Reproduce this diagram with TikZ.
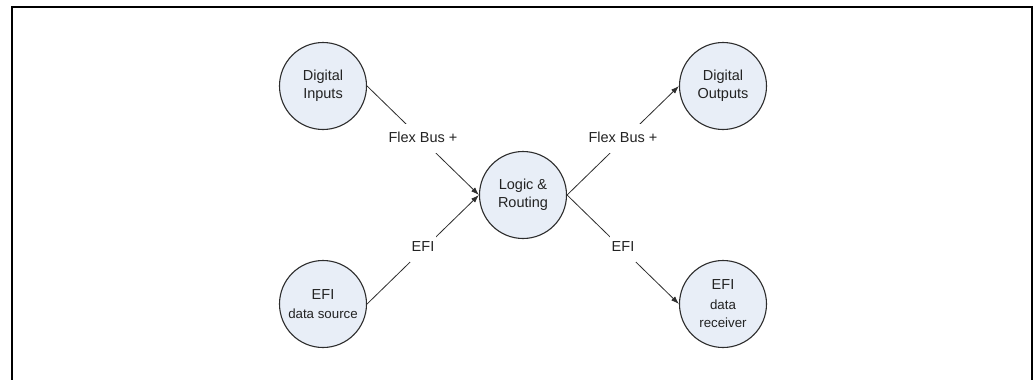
\documentclass[tikz,border=0pt]{standalone}
\usepackage{fontspec}
\setmainfont{Liberation Sans}
\usetikzlibrary{arrows.meta}
\definecolor{nodefill}{RGB}{232,238,247}
\definecolor{edgegray}{RGB}{45,45,45}
\definecolor{txt}{RGB}{35,35,35}
\newcommand{\bigf}{\fontsize{14.5}{18}\selectfont}
\newcommand{\smallf}{\fontsize{13.3}{16}\selectfont}
\begin{document}
\begin{tikzpicture}[x=1pt,y=-1pt,
  blob/.style={circle,draw=edgegray,line width=1.1pt,fill=nodefill,minimum size=87pt,inner sep=0pt,align=center,font=\bigf,text=txt},
  conn/.style={draw=edgegray,line width=0.8pt,-{Latex[length=8pt,width=5.5pt]}},
  plainconn/.style={draw=edgegray,line width=0.8pt},
  lbl/.style={fill=white,font=\bigf,text height=10pt,text depth=3pt,inner xsep=2pt,inner ysep=8pt,text=txt,yshift=2pt}]
\useasboundingbox (0,0) rectangle (1034,380);
\clip (0,0) rectangle (1034,380);
\fill[white] (0,0) rectangle (1034,380);
\coordinate (fbl) at (12,400);
\coordinate (ftl) at (12,7);
\coordinate (ftr) at (1032,7);
\coordinate (fbr) at (1032,400);
\draw[line width=2pt] (fbl) -- (ftl) -- (ftr) -- (fbr);

\node[blob] (di) at (323,86) {Digital\\Inputs};
\node[blob] (do) at (723,86) {Digital\\Outputs};
\node[blob] (lr) at (523,195) {Logic \&\\Routing};
\node[blob] (es) at (323,304) {EFI\\[1pt]\smallf data source};
\node[blob] (er) at (723,304) {EFI\\[2pt]\smallf data\\\smallf receiver};

\draw[conn] (di.east) -- node[lbl] (l1) {Flex Bus +} (lr.west);
\draw[conn] (es.east) -- node[lbl] (l2) {EFI} (lr.west);
\draw[conn] (lr.east) -- node[lbl] (l3) {Flex Bus +} (do.west);
\draw[conn] (lr.east) -- node[lbl] (l4) {EFI} (er.west);
\end{tikzpicture}
\end{document}
